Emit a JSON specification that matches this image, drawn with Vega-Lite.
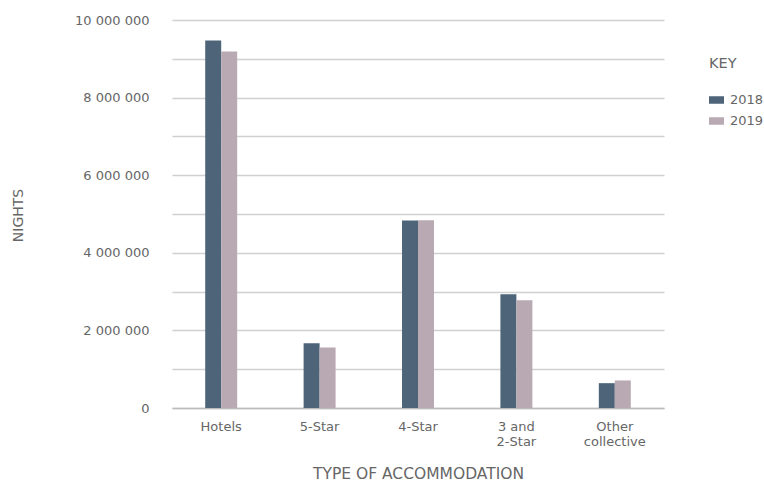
{
  "$schema": "https://vega.github.io/schema/vega-lite/v6.json",
  "width": 492,
  "height": 388,
  "autosize": {"type": "none"},
  "padding": {"left": 172, "top": 20, "right": 100, "bottom": 74},
  "background": "white",
  "config": {
    "locale": {"number": {"decimal": ".", "thousands": " ", "grouping": [3], "currency": ["", ""]}},
    "font": "DejaVu Sans",
    "view": {"stroke": null},
    "axis": {"labelColor": "#666666", "titleColor": "#666666", "labelFont": "DejaVu Sans", "titleFont": "DejaVu Sans", "labelFontSize": 13, "titleFontSize": 13, "titleFontWeight": "normal"},
    "legend": {"labelColor": "#666666", "titleColor": "#666666", "labelFont": "DejaVu Sans", "titleFont": "DejaVu Sans"}
  },
  "data": {
    "values": [
      {"type": "Hotels", "year": "2018", "nights": 9470000},
      {"type": "Hotels", "year": "2019", "nights": 9190000},
      {"type": "5-Star", "year": "2018", "nights": 1670000},
      {"type": "5-Star", "year": "2019", "nights": 1560000},
      {"type": "4-Star", "year": "2018", "nights": 4830000},
      {"type": "4-Star", "year": "2019", "nights": 4840000},
      {"type": "3 and 2-Star", "year": "2018", "nights": 2930000},
      {"type": "3 and 2-Star", "year": "2019", "nights": 2780000},
      {"type": "Other collective", "year": "2018", "nights": 640000},
      {"type": "Other collective", "year": "2019", "nights": 710000}
    ]
  },
  "mark": {"type": "bar"},
  "encoding": {
    "x": {
      "field": "type",
      "type": "nominal",
      "sort": ["Hotels", "5-Star", "4-Star", "3 and 2-Star", "Other collective"],
      "scale": {"paddingInner": 0.675, "paddingOuter": 0.3375},
      "axis": {
        "title": "TYPE OF ACCOMMODATION",
        "labelAngle": 0,
        "labelPadding": 12,
        "ticks": false,
        "domainColor": "#bbbbbb",
        "domainWidth": 1.5,
        "labelLineHeight": 15,
        "labelBaseline": "top",
        "labelExpr": "datum.label == '3 and 2-Star' ? ['3 and', '2-Star'] : datum.label == 'Other collective' ? ['Other', 'collective'] : datum.label",
        "titleFontSize": 15.5,
        "titleX": 246,
        "titleY": 65,
        "titleBaseline": "middle",
        "titleAlign": "center"
      }
    },
    "xOffset": {"field": "year", "type": "nominal"},
    "y": {
      "field": "nights",
      "type": "quantitative",
      "scale": {"domain": [0, 10000000], "nice": false},
      "axis": {
        "title": "NIGHTS",
        "values": [0, 1000000, 2000000, 3000000, 4000000, 5000000, 6000000, 7000000, 8000000, 9000000, 10000000],
        "labelExpr": "datum.value % 2000000 == 0 ? format(datum.value, ',') : ''",
        "ticks": false,
        "domain": false,
        "labelPadding": 23,
        "gridColor": "#d0d0d0",
        "gridWidth": 1.5,
        "titleFontSize": 14,
        "titleX": -154,
        "titleY": 195,
        "titleAlign": "center",
        "titleBaseline": "middle",
        "titleAngle": -90
      }
    },
    "color": {
      "field": "year",
      "type": "nominal",
      "scale": {"domain": ["2018", "2019"], "range": ["#4d6479", "#b9a9b2"]},
      "legend": {
        "title": "KEY",
        "orient": "none",
        "legendX": 537,
        "legendY": 37,
        "titleFontSize": 14.5,
        "titleFontWeight": "normal",
        "titlePadding": 21,
        "labelFontSize": 13,
        "labelOffset": 6,
        "rowPadding": 6,
        "symbolType": "M-1,-0.5H1V0.5H-1Z",
        "symbolSize": 225,
        "symbolStrokeWidth": 0
      }
    }
  }
}
